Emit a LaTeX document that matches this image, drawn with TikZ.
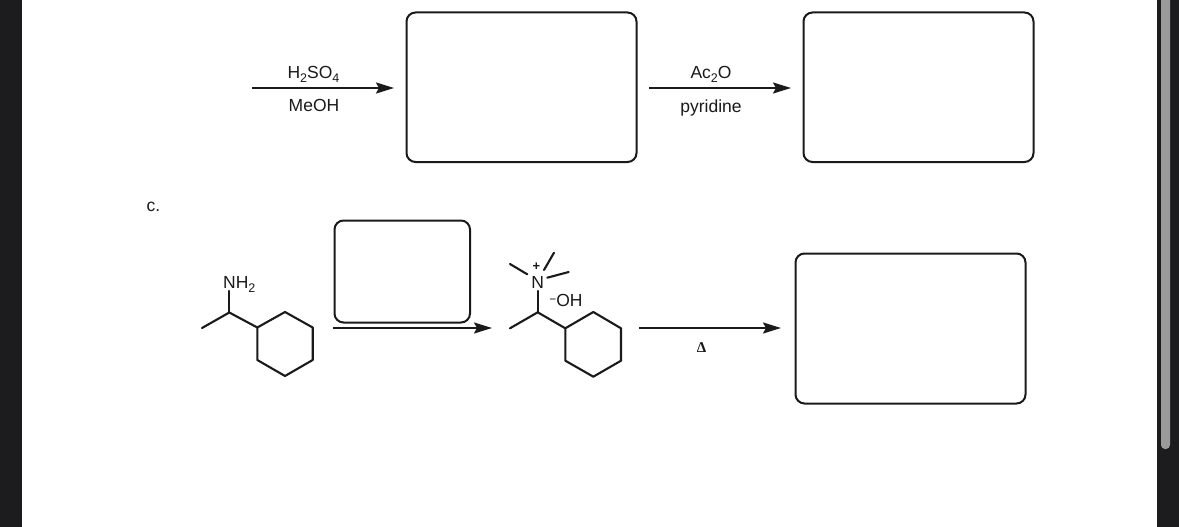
\documentclass[tikz,border=0pt]{standalone}
\usepackage{fontspec}
\setmainfont{Liberation Sans}
\newfontfamily\deltafont{Liberation Serif}
\usetikzlibrary{arrows.meta}
\definecolor{panel}{HTML}{1C1C1E}
\definecolor{thumb}{HTML}{9A9A9A}
\definecolor{ink}{HTML}{1A1A1A}
\tikzset{
  x=1pt,y=-1pt,
  answerbox/.style={draw=ink,line width=2pt,rounded corners=9pt},
  bond/.style={draw=ink,line width=2.1pt,line cap=round,line join=round},
  rxn/.style={draw=ink,line width=2.2pt,-{Stealth[length=18pt,width=11pt,inset=3pt]}},
  chem/.style={inner sep=0pt,text=ink,font=\fontsize{17.5}{19}\selectfont},
}
\newcommand{\cyclohexane}[6]{\draw[bond] (#1)--(#2)--(#3)--(#4)--(#5)--(#6)--cycle;}
\newcommand{\chemsub}[1]{\raisebox{-4pt}{\fontsize{12.5}{13}\selectfont #1}}
\begin{document}
\begin{tikzpicture}
\useasboundingbox (0,0) rectangle (1179,527);
% window chrome
\fill[white] (0,0) rectangle (1179,527);
\fill[panel] (0,0) rectangle (22,527);
\fill[panel] (1157,0) rectangle (1179,527);
\fill[thumb,rounded corners=4pt] (1161,-10) rectangle (1170,449);

% top row
\coordinate (a1s) at (252,88); \coordinate (a1e) at (394,88);
\coordinate (a2s) at (649,88); \coordinate (a2e) at (791,88);
\draw[rxn] (a1s) -- (a1e);
\draw[rxn] (a2s) -- (a2e);
\node[chem,anchor=base] (h2so4) at (313.5,78) {H\chemsub{2}SO\chemsub{4}};
\node[chem] (meoh) at (314,105.5) {MeOH};
\node[chem,anchor=base] (ac2o) at (711,78) {Ac\chemsub{2}O};
\node[chem] (pyr) at (711,108) {pyridine};
\draw[answerbox] (406.5,12.5) rectangle (636.5,162);
\draw[answerbox] (803.5,12.5) rectangle (1033.5,162);

% c.
\node[chem] (clabel) at (153.5,206.5) {c.};

% amine
\coordinate (ma) at (202,328);
\coordinate (cha) at (229.3,312.5);
\coordinate (nb) at (229.3,291);
\coordinate (r1) at (257.3,327.5);
\coordinate (r2) at (285,312);
\coordinate (r3) at (312.7,327.5);
\coordinate (r4) at (312.7,360);
\coordinate (r5) at (285,376);
\coordinate (r6) at (257.3,360);
\draw[bond] (ma) -- (cha) -- (r1);
\draw[bond] (cha) -- (nb);
\cyclohexane{r1}{r2}{r3}{r4}{r5}{r6}
\node[chem,anchor=base west] (nh2) at (223,288.5) {NH\chemsub{2}};

% reagent box and arrow
\draw[answerbox] (334.5,220.5) rectangle (470,322.5);
\coordinate (a3s) at (333,328); \coordinate (a3e) at (492,328);
\draw[rxn] (a3s) -- (a3e);

% ammonium
\coordinate (mb) at (510,328.3);
\coordinate (chb) at (537.7,312.3);
\coordinate (s1) at (565.3,328.3);
\coordinate (s2) at (593.3,312);
\coordinate (s3) at (621,328.3);
\coordinate (s4) at (621,360.7);
\coordinate (s5) at (593.3,376.7);
\coordinate (s6) at (565.3,360.7);
\draw[bond] (mb) -- (chb) -- (s1);
\cyclohexane{s1}{s2}{s3}{s4}{s5}{s6}
\node[chem] (nplus) at (537.7,282) {N};
\node[chem,font=\bfseries\fontsize{13}{14}\selectfont] (plus) at (536.5,266.5) {+};
\coordinate (nb2) at (537.7,291);
\draw[bond] (chb) -- (nb2);
\coordinate (m1a) at (510,264); \coordinate (m1b) at (527.3,274.3);
\coordinate (m2a) at (554,252.7); \coordinate (m2b) at (544,270);
\coordinate (m3a) at (568.7,272); \coordinate (m3b) at (547.3,277.7);
\draw[bond] (m1a) -- (m1b);
\draw[bond] (m2a) -- (m2b);
\draw[bond] (m3a) -- (m3b);
\node[chem] (oh) at (566,300.5) {\raisebox{3pt}{\fontsize{12}{12}\selectfont\textminus}OH};

% elimination
\coordinate (a4s) at (639,328); \coordinate (a4e) at (781,328);
\draw[rxn] (a4s) -- (a4e);
\node[inner sep=0pt,text=ink,font=\deltafont\bfseries\fontsize{15}{17}\selectfont] (delta) at (701.5,348) {Δ};
\draw[answerbox] (795.5,253.5) rectangle (1025.5,403.5);
\end{tikzpicture}
\end{document}
